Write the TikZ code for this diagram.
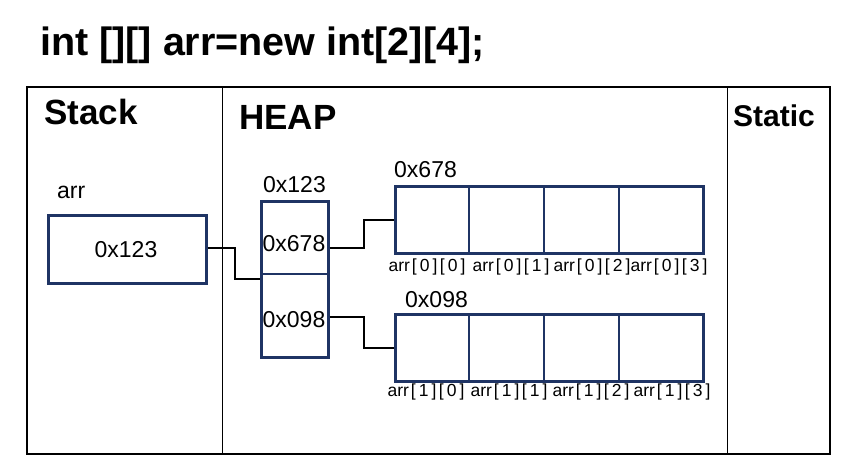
\documentclass[tikz,border=0pt]{standalone}
\usepackage{fontspec}
\setmainfont{Liberation Sans}
\definecolor{navy}{RGB}{31,52,100}
\newcommand\ixl[2]{arr\kern2pt[\kern3pt#1\kern3pt]\kern2.5pt[\kern3pt#2\kern3pt]}
\tikzset{
  navybox/.style={draw=navy,line width=2.5pt,rectangle,inner sep=0pt,anchor=north west},
  cellline/.style={draw=navy,line width=1.2pt},
  conn/.style={draw=black,line width=2pt},
  frameline/.style={draw=black,line width=2.6pt},
  divline/.style={draw=black,line width=1pt},
  hdr/.style={font=\fontsize{35}{40}\selectfont\bfseries,inner sep=0pt,anchor=base west},
  txt/.style={font=\fontsize{23}{26}\selectfont,inner sep=0pt},
  idx/.style={font=\fontsize{17.5}{19}\selectfont,inner sep=0pt},
}
\begin{document}
\begin{tikzpicture}[x=1pt,y=-1pt]
\useasboundingbox[fill=white] (0,0) rectangle (846,468);
% title
\node[hdr,font=\fontsize{39.5}{43}\selectfont\bfseries] (title) at (40,56) {int [][] arr=new int[2][4];};
% frame
\draw[frameline] (27,87) rectangle (830,454);
\draw[divline] (222,87) -- (222,454);
\draw[divline] (727,87) -- (727,454);
\node[hdr] (stack) at (44,125) {Stack};
\node[hdr] (heap) at (239,130) {HEAP};
\node[hdr,font=\fontsize{30}{34}\selectfont\bfseries] (static) at (733,127) {Static};
% stack variable
\node[txt,anchor=base west] (arrlbl) at (57,198) {arr};
\node[navybox,minimum width=158pt,minimum height=68pt] (s) at (47,214) {};
\node[txt] (sval) at (126,250) {0x123};
% heap pointer array
\node[txt,anchor=base] (hlbl) at (294.5,192) {0x123};
\node[navybox,minimum width=67pt,minimum height=156pt] (hb) at (260,200) {};
\draw[cellline] (260,274) -- (327,274);
\node[txt] (h1) at (294,243.5) {0x678};
\node[txt] (h2) at (294,320) {0x098};
% row arrays
\node[txt,anchor=base west] (r1lbl) at (394,177) {0x678};
\node[navybox,minimum width=308pt,minimum height=67pt] (r1) at (394,185) {};
\foreach \xx in {469,544,619} \draw[cellline] (\xx,185) -- (\xx,252);
\node[txt,anchor=base west] (r2lbl) at (405,307) {0x098};
\node[navybox,minimum width=308pt,minimum height=67pt] (r2) at (394,313) {};
\foreach \xx in {469,544,619} \draw[cellline] (\xx,313) -- (\xx,380);
% index labels
\node[idx] (a00) at (427,267) {\ixl{0}{0}};
\node[idx] (a01) at (511,267) {\ixl{0}{1}};
\node[idx] (a02) at (592,267) {\ixl{0}{2}};
\node[idx] (a03) at (669,267) {\ixl{0}{3}};
\node[idx] (a10) at (426,392) {\ixl{1}{0}};
\node[idx] (a11) at (509,392) {\ixl{1}{1}};
\node[idx] (a12) at (591,392) {\ixl{1}{2}};
\node[idx] (a13) at (672,392) {\ixl{1}{3}};
% connectors
\draw[conn] (s.east |- 0,248) -- ++(27,0) |- (hb.west |- 0,279);
\draw[conn] (hb.east |- 0,248) -- ++(34,0) |- (r1.west);
\draw[conn] (hb.east |- 0,317) -- ++(34,0) |- (r2.west);
\end{tikzpicture}
\end{document}
